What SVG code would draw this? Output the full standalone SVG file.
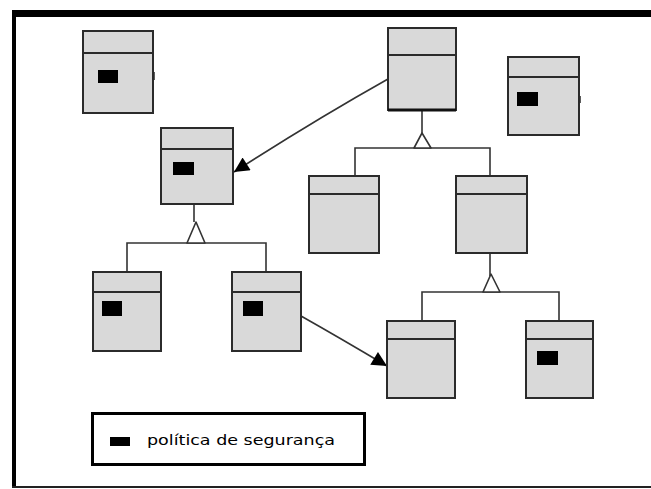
<svg xmlns="http://www.w3.org/2000/svg" width="651" height="489" viewBox="0 0 651 489">
  <style>
    .box { fill: #d9d9d9; stroke: #2b2b2b; stroke-width: 2; }
    .sep { stroke: #2b2b2b; stroke-width: 2; }
    .pol { fill: #000; }
    .wire { fill: none; stroke: #333; stroke-width: 1.6; }
    .tri { fill: #fff; stroke: #333; stroke-width: 1.6; stroke-linejoin: round; }
    .label { font-family: "DejaVu Sans", "Liberation Sans", sans-serif; font-size: 14px; fill: #000; }
  </style>
  <defs>
    <marker id="head" viewBox="0 0 10 10" refX="10" refY="5" markerWidth="18" markerHeight="15" markerUnits="userSpaceOnUse" orient="auto">
      <path d="M0,0 L10,5 L0,10 z" fill="#000"/>
    </marker>
  </defs>

  <rect x="0" y="0" width="651" height="489" fill="#fff"/>

  <!-- outer frame -->
  <g id="frame">
    <rect x="12" y="10" width="4" height="478" fill="#000"/>
    <rect x="12" y="10" width="639" height="7" fill="#000"/>
    <rect x="12" y="486" width="639" height="2" fill="#222"/>
  </g>

  <!-- connectors -->
  <g id="connectors">
    <!-- generalization trees -->
    <path class="wire" d="M422,111 V134 M355,176 V148 H490 V176"/>
    <path class="tri" d="M422,133 L414,148 L431,148 z"/>
    <path class="wire" d="M194,204 V222 M127,272 V243 H266 V272"/>
    <path class="tri" d="M196,222 L187,243 L205,243 z"/>
    <path class="wire" d="M490,253 V276 M422,321 V292 H559 V321"/>
    <path class="tri" d="M491,274 L483,292 L500,292 z"/>
    <!-- associations -->
    <path class="wire" d="M388,79 Q315,120 234,172" marker-end="url(#head)"/>
    <path class="wire" d="M301,316 Q340,338 387,366" marker-end="url(#head)"/>
    <!-- stubs -->
    <path class="wire" d="M154,72 V80 M580,96 V103"/>
  </g>

  <g id="node-top-left">
    <rect class="box" x="83" y="31" width="70" height="82"/>
    <line class="sep" x1="83" y1="53" x2="153" y2="53"/>
    <rect class="pol" x="98" y="70" width="20" height="13"/>
  </g>

  <g id="node-top-center">
    <rect class="box" x="388" y="28" width="68" height="82"/>
    <line class="sep" x1="388" y1="55" x2="456" y2="55"/>
    <line x1="388" y1="110" x2="456" y2="110" stroke="#111" stroke-width="3"/>
  </g>

  <g id="node-top-right">
    <rect class="box" x="508" y="57" width="71" height="78"/>
    <line class="sep" x1="508" y1="77" x2="579" y2="77"/>
    <rect class="pol" x="517" y="92" width="21" height="14"/>
  </g>

  <g id="node-mid-left">
    <rect class="box" x="161" y="128" width="72" height="76"/>
    <line class="sep" x1="161" y1="149" x2="233" y2="149"/>
    <rect class="pol" x="173" y="162" width="21" height="13"/>
  </g>

  <g id="node-mid-a">
    <rect class="box" x="309" y="176" width="70" height="77"/>
    <line class="sep" x1="309" y1="194" x2="379" y2="194"/>
  </g>

  <g id="node-mid-b">
    <rect class="box" x="456" y="176" width="71" height="77"/>
    <line class="sep" x1="456" y1="194" x2="527" y2="194"/>
  </g>

  <g id="node-low-left-a">
    <rect class="box" x="93" y="272" width="68" height="79"/>
    <line class="sep" x1="93" y1="292" x2="161" y2="292"/>
    <rect class="pol" x="102" y="301" width="20" height="15"/>
  </g>

  <g id="node-low-left-b">
    <rect class="box" x="232" y="272" width="69" height="79"/>
    <line class="sep" x1="232" y1="292" x2="301" y2="292"/>
    <rect class="pol" x="243" y="301" width="20" height="15"/>
  </g>

  <g id="node-low-right-a">
    <rect class="box" x="387" y="321" width="68" height="77"/>
    <line class="sep" x1="387" y1="339" x2="455" y2="339"/>
  </g>

  <g id="node-low-right-b">
    <rect class="box" x="526" y="321" width="67" height="77"/>
    <line class="sep" x1="526" y1="339" x2="593" y2="339"/>
    <rect class="pol" x="537" y="351" width="21" height="14"/>
  </g>

  <!-- legend -->
  <g id="legend">
    <rect x="92.5" y="413.5" width="272" height="51" fill="#fff" stroke="#000" stroke-width="3"/>
    <rect class="pol" x="110" y="437" width="20" height="9"/>
    <text class="label" x="147" y="445" textLength="188" lengthAdjust="spacingAndGlyphs">política de segurança</text>
  </g>
</svg>
